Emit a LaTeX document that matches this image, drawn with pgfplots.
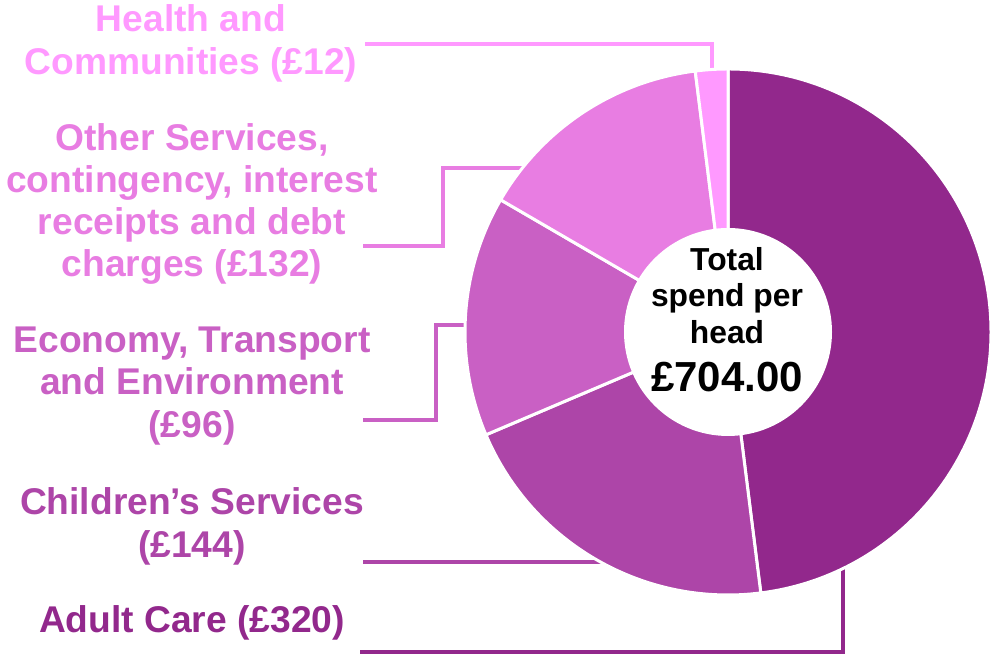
\documentclass[border=0pt]{standalone}
\usepackage{pgfplots}
\pgfplotsset{compat=1.18}
\usepackage{pgfplotstable}
\usetikzlibrary{calc}
\usepackage{fontspec}
\setmainfont{Liberation Sans}

\definecolor{sc0}{RGB}{146,40,140}
\definecolor{sc1}{RGB}{173,69,168}
\definecolor{sc2}{RGB}{201,96,196}
\definecolor{sc3}{RGB}{232,125,226}
\definecolor{sc4}{RGB}{255,153,255}

% slice sizes as drawn (share of the 704 total), clockwise from the top
\pgfplotstableread{
idx label value
0 Adult 338
1 Children 145
2 Economy 104
3 Other 103
4 Health 14
}\slices

\def\cum{0}
\pgfplotsforeachungrouped \i in {0,...,4}{%
  \pgfplotstablegetelem{\i}{value}\of\slices
  \pgfmathsetmacro\a{90-(\cum/704)*360}%
  \pgfmathsetmacro\cum{\cum+\pgfplotsretval}%
  \pgfmathsetmacro\b{90-(\cum/704)*360}%
  \expandafter\xdef\csname sa\i\endcsname{\a}%
  \expandafter\xdef\csname sb\i\endcsname{\b}%
}

\newcommand\lab{\fontsize{18.6}{22}\selectfont\bfseries}
\newcommand\cen{\fontsize{15.9}{18}\selectfont\bfseries}

\begin{document}
\begin{tikzpicture}
\begin{axis}[width=495.5pt, height=328pt, scale only axis,
  xmin=0, xmax=991, ymin=0, ymax=656, hide axis, clip=false]
% leader lines
\addplot[sc4, line width=2.3pt, mark=none] coordinates {(365,612) (712,612) (712,584)};
\addplot[sc3, line width=2.3pt, mark=none] coordinates {(363,410) (443,410) (443,488) (525,488)};
\addplot[sc2, line width=2.3pt, mark=none] coordinates {(363,236) (436,236) (436,331) (480,331)};
\addplot[sc1, line width=2.3pt, mark=none] coordinates {(363,94) (615,94)};
\addplot[sc0, line width=2.3pt, mark=none] coordinates {(360,4) (843,4) (843,96)};
% donut slices
\pgfplotsinvokeforeach{0,...,4}{
  \fill[sc#1, draw=white, line width=1.5pt]
    (axis cs:728,324) -- ($(axis cs:728,324)+(\csname sa#1\endcsname:131.5pt)$)
    arc[start angle=\csname sa#1\endcsname, end angle=\csname sb#1\endcsname, radius=131.5pt] -- cycle;
}
\fill[white] (axis cs:728,324) circle[radius=52pt];
% centre text
\node[anchor=base, inner sep=0pt, font=\cen] at (axis cs:727,385) {Total};
\node[anchor=base, inner sep=0pt, font=\cen] at (axis cs:727,349) {spend per};
\node[anchor=base, inner sep=0pt, font=\cen] at (axis cs:727,312) {head};
\node[anchor=base, inner sep=0pt, font=\fontsize{21}{24}\selectfont\bfseries] at (axis cs:727,264) {£704.00};
% labels
\node[anchor=base, inner sep=0pt, font=\lab, text=sc4] at (axis cs:191,624) {Health and};
\node[anchor=base, inner sep=0pt, font=\lab, text=sc4] at (axis cs:191,581) {Communities (£12)};
\node[anchor=base, inner sep=0pt, font=\lab, text=sc3] at (axis cs:192,505) {Other Services,};
\node[anchor=base, inner sep=0pt, font=\lab, text=sc3] at (axis cs:192,463) {contingency, interest};
\node[anchor=base, inner sep=0pt, font=\lab, text=sc3] at (axis cs:192,421) {receipts and debt};
\node[anchor=base, inner sep=0pt, font=\lab, text=sc3] at (axis cs:192,379) {charges (£132)};
\node[anchor=base, inner sep=0pt, font=\lab, text=sc2] at (axis cs:192,303) {Economy, Transport};
\node[anchor=base, inner sep=0pt, font=\lab, text=sc2] at (axis cs:192,261) {and Environment};
\node[anchor=base, inner sep=0pt, font=\lab, text=sc2] at (axis cs:192,218) {(£96)};
\node[anchor=base, inner sep=0pt, font=\lab, text=sc1] at (axis cs:192,141) {Children’s Services};
\node[anchor=base, inner sep=0pt, font=\lab, text=sc1] at (axis cs:192,98) {(£144)};
\node[anchor=base, inner sep=0pt, font=\lab, text=sc0] at (axis cs:192,23) {Adult Care (£320)};
\end{axis}
\pgfresetboundingbox
\useasboundingbox (current axis.south west) rectangle (current axis.north east);
\end{tikzpicture}
\end{document}
